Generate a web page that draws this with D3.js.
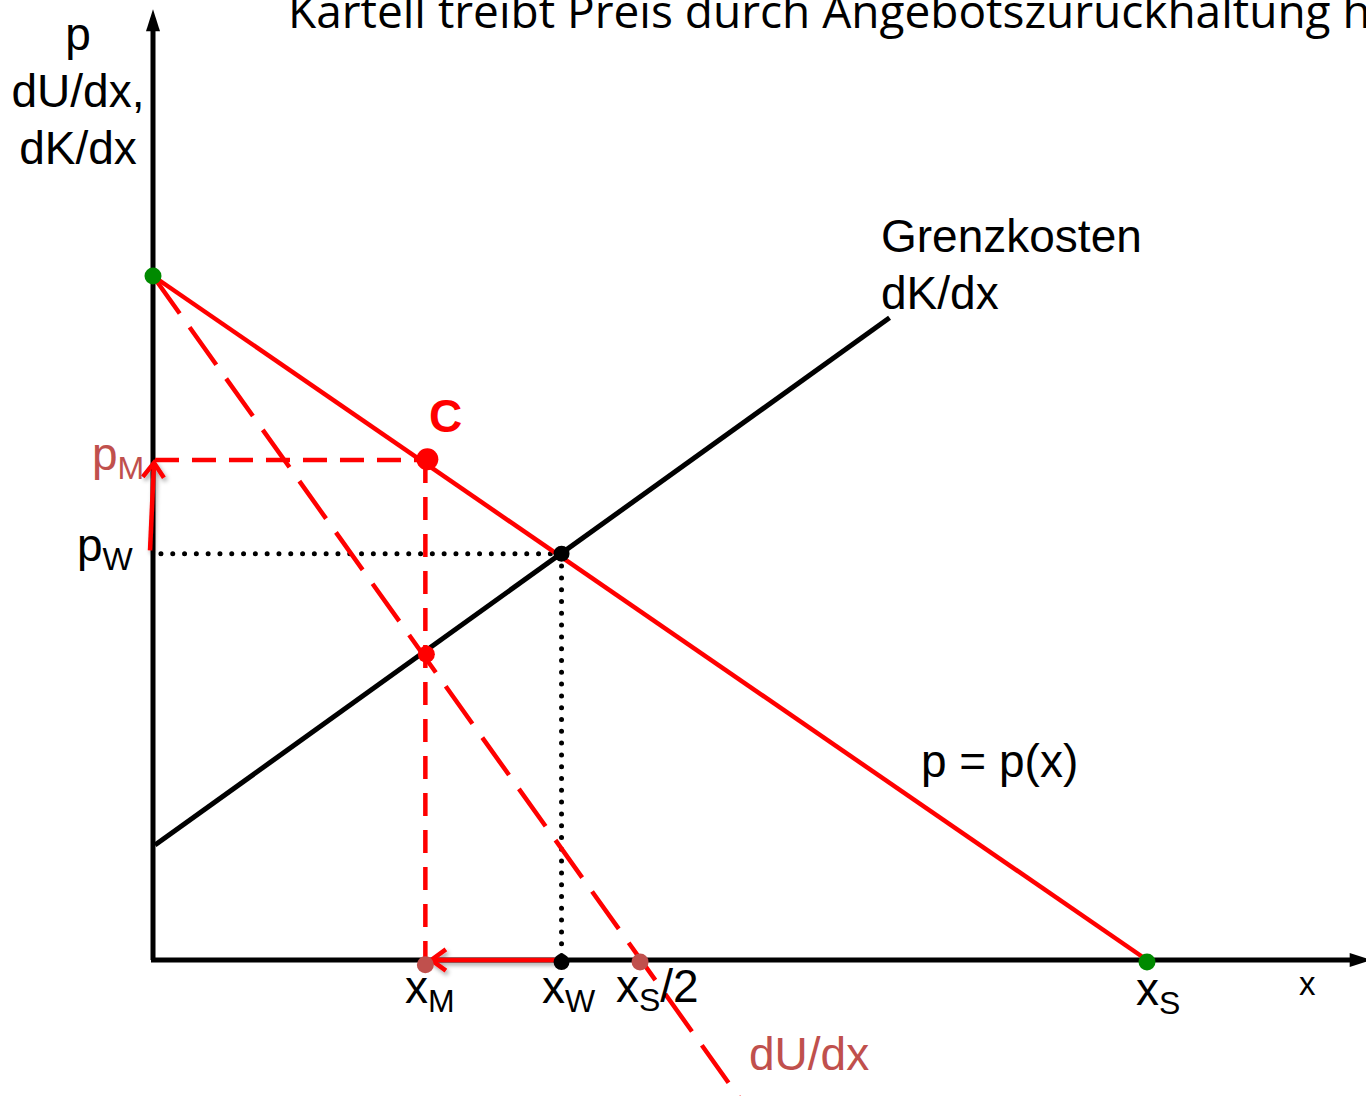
<!DOCTYPE html>
<html>
<head>
<meta charset="utf-8">
<script src="https://cdn.jsdelivr.net/npm/d3@7"></script>
<style>
  body { margin: 0; background: #fff; }
  svg { display: block; }
  text { font-family: "Liberation Sans", Arial, sans-serif; }
</style>
</head>
<body>
<div id="wrapper"></div>
<script>
// Kartell-Diagramm: Nachfrage, Grenzerlös, Grenzkosten
// values, in chart units (x: 0..xS=10, y: 0..10)

const titleText = "Kartell treibt Preis durch Angebotszurückhaltung hoch"

const axisEnd = [12.2, 13.9]            // x end, y end of the axes

const demandX = [0, 10]
const demandY = [10, 0]

const mrX = [0, 5.95]                   // dU/dx, dashed
const mrY = [10, -2.12]

const mcX = [0.02, 7.41]                // Grenzkosten
const mcY = [1.68, 9.39]

const pointNames = ["top", "xS", "C", "mrmc", "W", "xW", "xM", "xHalf"]
const pointX = [0, 10, 2.76, 2.75, 4.11, 4.11, 2.74, 4.9]
const pointY = [10, -0.03, 7.32, 4.47, 5.94, -0.03, -0.07, -0.03]
const pointKind = ["green", "green", "bigred", "red", "black", "black", "brown", "brown"]

const pM = 7.31
const pW = 5.94
const xM = 2.76
const xW = 4.11

async function drawDiagram() {
	const width = 1366
	const height = 1096

	const colors = {
		red: "#ff0000",
		brown: "#c0504d",
		green: "#008a00",
		black: "#000"
	}

	const xScale = d3.scaleLinear()
		.domain([0, 10])
		.range([153, 1147])

	const yScale = d3.scaleLinear()
		.domain([0, 10])
		.range([960, 276])

	const svg = d3.select("#wrapper")
		.append("svg")
		.attr("width", width)
		.attr("height", height)

	const defs = svg.append("defs")
	const shadow = defs.append("filter")
		.attr("id", "shadow")
		.attr("x", "-50%").attr("y", "-50%")
		.attr("width", "200%").attr("height", "200%")
	shadow.append("feDropShadow")
		.attr("dx", 2).attr("dy", 3)
		.attr("stdDeviation", 2)
		.attr("flood-color", "#000")
		.attr("flood-opacity", 0.35)

	// title, clipped at the top and right like the slide
	svg.append("text")
		.attr("x", 288)
		.attr("y", 28)
		.style("font-family", "'Open Sans', sans-serif")
		.style("font-size", "46px")
		.attr("fill", "#000")
		.text(titleText)

	// axes
	const line = d3.line()
		.x(d => xScale(d[0]))
		.y(d => yScale(d[1]))

	svg.append("path")
		.attr("d", line([[0, 0], [0, axisEnd[1] - 0.3]]))
		.attr("stroke", colors.black)
		.attr("stroke-width", 5)
		.attr("fill", "none")

	svg.append("path")
		.attr("d", line([[-0.02, 0], [axisEnd[0] - 0.1, 0]]))
		.attr("stroke", colors.black)
		.attr("stroke-width", 5)
		.attr("fill", "none")

	// arrow heads of the axes
	const yTip = [xScale(0), yScale(axisEnd[1])]
	svg.append("path")
		.attr("d", `M${yTip[0]},${yTip[1]} L${yTip[0] - 7},${yTip[1] + 22} L${yTip[0] + 7},${yTip[1] + 22} Z`)
		.attr("fill", colors.black)
	const xTip = [xScale(axisEnd[0]) + 6, yScale(0)]
	svg.append("path")
		.attr("d", `M${xTip[0]},${xTip[1]} L${xTip[0] - 22},${xTip[1] - 7} L${xTip[0] - 22},${xTip[1] + 7} Z`)
		.attr("fill", colors.black)

	// Grenzkosten
	svg.append("path")
		.attr("d", line(d3.zip(mcX, mcY)))
		.attr("stroke", colors.black)
		.attr("stroke-width", 5)
		.attr("fill", "none")

	// dotted lines to W
	svg.append("path")
		.attr("d", line([[0.08, pW], [xW, pW], [xW, 0]]))
		.attr("stroke", colors.black)
		.attr("stroke-width", 5)
		.attr("stroke-linecap", "round")
		.attr("stroke-dasharray", "0,11.8")
		.attr("fill", "none")

	// dashed lines to C
	svg.append("path")
		.attr("d", line([[0.02, pM], [xM, pM]]))
		.attr("stroke", colors.red)
		.attr("stroke-width", 4.5)
		.attr("stroke-dasharray", "24,13")
		.attr("fill", "none")
	svg.append("path")
		.attr("d", line([[xM - 0.02, pM], [xM - 0.02, 0]]))
		.attr("stroke", colors.red)
		.attr("stroke-width", 4.5)
		.attr("stroke-dasharray", "23,14")
		.attr("fill", "none")

	// demand p = p(x)
	svg.append("path")
		.attr("d", line(d3.zip(demandX, demandY)))
		.attr("stroke", colors.red)
		.attr("stroke-width", 4.5)
		.attr("fill", "none")

	// dU/dx dashed
	svg.append("path")
		.attr("d", line(d3.zip(mrX, mrY)))
		.attr("stroke", colors.red)
		.attr("stroke-width", 4.5)
		.attr("stroke-dasharray", "46,17")
		.attr("fill", "none")

	// red arrows: price up, quantity down
	const chevron = (tip, angle) => {
		const len = 18
		const spread = Math.PI / 5
		const a1 = angle + Math.PI - spread
		const a2 = angle + Math.PI + spread
		return `M${tip[0] + len * Math.cos(a1)},${tip[1] + len * Math.sin(a1)} L${tip[0]},${tip[1]} L${tip[0] + len * Math.cos(a2)},${tip[1] + len * Math.sin(a2)}`
	}

	const arrows = [
		[[-0.03, 5.99], [0.01, 7.27]],
		[[4.06, 0], [2.8, 0]]
	]
	arrows.forEach(([from, to]) => {
		const p0 = [xScale(from[0]), yScale(from[1])]
		const p1 = [xScale(to[0]), yScale(to[1])]
		const angle = Math.atan2(p1[1] - p0[1], p1[0] - p0[0])
		const g = svg.append("g").attr("filter", "url(#shadow)")
		g.append("path")
			.attr("d", `M${p0[0]},${p0[1]} L${p1[0]},${p1[1]}`)
			.attr("stroke", colors.red)
			.attr("stroke-width", 4.5)
			.attr("fill", "none")
		g.append("path")
			.attr("d", chevron(p1, angle))
			.attr("stroke", colors.red)
			.attr("stroke-width", 4.5)
			.attr("stroke-linejoin", "miter")
			.attr("fill", "none")
	})

	// points
	const radius = { green: 8.5, bigred: 11, red: 8.5, black: 8, brown: 8.5 }
	const fill = { green: colors.green, bigred: colors.red, red: colors.red, black: colors.black, brown: colors.brown }
	svg.append("g")
		.selectAll("circle")
		.data(pointNames.map((n, i) => ({ name: n, x: pointX[i], y: pointY[i], kind: pointKind[i] })))
		.join("circle")
		.attr("cx", d => xScale(d.x))
		.attr("cy", d => yScale(d.y))
		.attr("r", d => radius[d.kind])
		.attr("fill", d => fill[d.kind])

	// labels
	const labels = svg.append("g").style("font-size", "46px")

	const yTitle = ["p", "dU/dx,", "dK/dx"]
	labels.selectAll(".ytitle")
		.data(yTitle)
		.join("text")
		.attr("class", "ytitle")
		.attr("x", 78)
		.attr("y", (d, i) => 50 + i * 57)
		.attr("text-anchor", "middle")
		.text(d => d)

	labels.append("text")
		.attr("x", 881).attr("y", 252)
		.text("Grenzkosten")
	labels.append("text")
		.attr("x", 881).attr("y", 309)
		.text("dK/dx")

	labels.append("text")
		.attr("x", 921).attr("y", 777)
		.text("p = p(x)")

	labels.append("text")
		.attr("x", 749).attr("y", 1070)
		.attr("fill", colors.brown)
		.text("dU/dx")

	labels.append("text")
		.attr("x", 429).attr("y", 432)
		.attr("fill", colors.red)
		.style("font-weight", "bold")
		.text("C")

	labels.append("text")
		.attr("x", 1299).attr("y", 995)
		.style("font-size", "33px")
		.text("x")

	// labels with subscripts
	const subLabel = (x, y, main, sub, rest, color) => {
		const t = labels.append("text")
			.attr("x", x).attr("y", y)
			.attr("fill", color || colors.black)
		t.append("tspan").text(main)
		t.append("tspan")
			.attr("dy", 9)
			.style("font-size", "32px")
			.text(sub)
		if (rest) {
			t.append("tspan")
				.attr("dy", -9)
				.text(rest)
		}
	}

	subLabel(92, 470, "p", "M", null, colors.brown)
	subLabel(77, 561, "p", "W")
	subLabel(405, 1003, "x", "M")
	subLabel(542, 1003, "x", "W")
	subLabel(616, 1002, "x", "S", "/2")
	subLabel(1136, 1005, "x", "S")
}

drawDiagram()
</script>
</body>
</html>
